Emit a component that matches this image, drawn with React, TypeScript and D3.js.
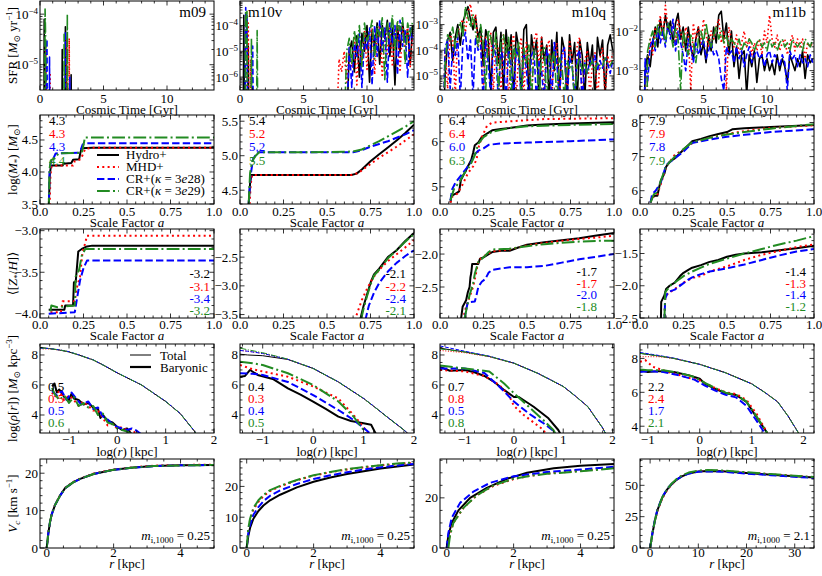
import React from 'react';
import * as d3 from 'd3';

type Pt = [number, number];

const FONT = '"Liberation Serif", "DejaVu Serif", serif';
const LEFTS = [40, 240, 440, 640];
const TOPS = [1, 115, 229, 344, 459];
const PW = 174;
const PH = 89;

const RUNS = ['Hydro+', 'MHD+', 'CR+(κ = 3e28)', 'CR+(κ = 3e29)'];
const SIMS = ['m09', 'm10v', 'm10q', 'm11b'];
const COLORS = ['#000000', '#ff0000', '#0000ff', '#228b22'];
const DASH_UNITS: (number[] | null)[] = [null, [1, 1.65], [3.7, 1.6], [6.4, 1.6, 1, 1.6]];

// ---------------- Row 1: SFR (log10 M_sun/yr) ----------------
const SFR_GRID_DT = 0.2;
const SFR_M09: Pt[][] = [
  [[0.3, -8], [0.33, -4.1], [0.36, -8], [0.42, -4.7], [0.45, -8], [1.7, -8], [1.75, -4.7], [1.8, -8], [1.95, -8], [2.0, -4.25], [2.05, -4.6], [2.1, -8], [2.4, -8], [2.45, -5.2], [2.5, -8]],
  [[0.4, -8], [0.45, -4.6], [0.5, -8], [0.75, -8], [0.8, -5.16], [0.85, -8], [2.05, -8], [2.1, -4.5], [2.15, -8], [2.25, -8], [2.3, -4.48], [2.35, -8]],
  [[0.45, -8], [0.5, -4.8], [0.55, -4.5], [0.6, -8], [0.7, -8], [0.75, -4.85], [0.8, -8], [1.95, -8], [2.0, -4.35], [2.05, -8], [2.3, -8], [2.35, -5.25], [2.4, -8]],
  [[0.35, -8], [0.4, -3.9], [0.45, -4.55], [0.5, -8], [1.85, -8], [1.9, -4.4], [1.95, -8], [2.1, -8], [2.15, -4.0], [2.2, -8]],
];
const SFR_M10V: Pt[][] = [
  [[0.25, -8], [0.3, -3.6], [0.35, -8], [0.6, -8], [0.65, -4.8], [0.7, -8],
   [8.4, -8], [8.6, -5.0], [8.8, -4.6], [9.0, -5.8], [9.2, -4.4], [9.4, -6.0], [9.6, -4.3], [9.8, -5.0], [10.0, -4.0], [10.2, -6.2], [10.4, -4.2], [10.6, -4.8], [10.8, -3.9], [11.0, -5.5], [11.2, -4.0], [11.4, -4.5], [11.6, -3.8], [11.8, -5.2], [12.0, -4.1], [12.2, -6.3], [12.4, -4.0], [12.6, -5.0], [12.8, -3.9], [13.0, -4.6], [13.2, -4.2], [13.4, -5.5], [13.6, -4.0]],
  [[0.5, -8], [0.55, -3.75], [0.6, -5.5], [0.65, -3.9], [0.7, -8], [0.8, -8], [0.85, -5.3], [0.9, -8],
   [7.6, -8], [7.8, -5.3], [8.0, -5.8], [8.2, -5.0], [8.4, -6.2], [8.6, -4.9], [8.8, -5.6], [9.0, -4.5], [9.2, -6.3], [9.4, -4.6], [9.6, -5.5], [9.8, -4.2], [10.0, -5.7], [10.2, -4.4], [10.4, -4.1], [10.6, -5.9], [10.8, -4.3], [11.0, -4.0], [11.2, -6.0], [11.4, -4.2], [11.6, -5.1], [11.8, -4.0], [12.0, -5.6], [12.2, -4.3], [12.4, -3.9], [12.6, -5.8], [12.8, -4.1], [13.0, -4.8], [13.2, -4.0], [13.4, -5.6], [13.6, -4.3]],
  [[0.4, -8], [0.45, -3.3], [0.5, -4.5], [0.55, -3.6], [0.6, -8], [0.95, -8], [1.0, -4.8], [1.05, -8],
   [8.4, -8], [8.6, -4.8], [8.8, -6.4], [9.0, -4.7], [9.2, -5.2], [9.4, -4.3], [9.6, -6.4], [9.8, -4.5], [10.0, -4.9], [10.2, -4.1], [10.4, -6.3], [10.6, -4.0], [10.8, -5.2], [11.0, -3.8], [11.2, -5.0], [11.4, -4.1], [11.6, -6.2], [11.8, -3.9], [12.0, -4.7], [12.2, -4.0], [12.4, -5.9], [12.6, -3.8], [12.8, -4.8], [13.0, -4.2], [13.2, -6.0], [13.4, -4.1], [13.6, -4.6]],
  [[0.4, -8], [0.45, -3.5], [0.5, -4.0], [0.55, -3.45], [0.6, -8], [0.85, -8], [0.9, -4.5], [0.95, -8], [1.3, -8], [1.35, -4.2], [1.4, -8],
   [8.2, -8], [8.4, -5.0], [8.6, -4.5], [8.8, -5.5], [9.0, -4.2], [9.2, -4.8], [9.4, -4.0], [9.6, -5.6], [9.8, -3.9], [10.0, -4.6], [10.2, -4.3], [10.4, -3.8], [10.6, -5.3], [10.8, -4.0], [11.0, -4.4], [11.2, -3.7], [11.4, -6.1], [11.6, -3.9], [11.8, -4.5], [12.0, -3.6], [12.2, -5.0], [12.4, -3.8], [12.6, -4.2], [12.8, -3.7], [13.0, -5.5], [13.2, -3.9], [13.4, -4.4], [13.6, -3.8]],
];
const SFR_M10Q: number[][] = [
  [-8, -8, -5.0, -3.6, -3.3, -4.4, -3.5, -3.0, -3.8, -2.9, -2.6, -2.3, -2.8, -3.2, -2.7, -3.5, -3.1, -4.6, -3.2, -3.6, -5.6, -3.3, -3.1, -4.5, -3.3, -5.8, -3.2, -4.3, -3.4, -6.0, -3.3, -3.9, -5.8, -3.2, -3.0, -5.9, -3.4, -4.2, -3.6, -6, -3.5, -4.4, -3.8, -6, -3.6, -4.8, -3.3, -5.9, -3.5, -4.0, -6, -3.4, -4.5, -3.7, -6, -3.6, -4.2, -5.9, -3.7, -4.6, -3.8, -6, -3.5, -4.2, -3.6, -5.8, -3.8, -3.4, -4.0],
  [-8, -8, -4.0, -5.5, -3.4, -3.6, -5.8, -3.3, -3.0, -2.8, -3.3, -2.5, -2.2, -3.0, -2.6, -3.8, -3.4, -5.8, -3.5, -4.2, -3.3, -5.7, -3.6, -4.0, -5.9, -3.4, -3.9, -5.9, -3.8, -3.4, -6, -4.0, -3.5, -5.8, -3.7, -4.6, -6, -3.6, -3.3, -4.6, -3.5, -5.9, -3.9, -3.6, -5.8, -4.2, -3.7, -6, -4.3, -3.9, -5.9, -3.6, -4.3, -6, -3.8, -3.5, -6, -4.4, -4.0, -5.8, -4.5, -4.1, -6, -4.3, -3.9, -5.8, -4.2, -4.6, -4.1],
  [-8, -8, -3.9, -3.6, -5.5, -3.9, -4.2, -3.5, -5.9, -3.7, -3.3, -4.4, -3.6, -5.8, -3.5, -4.0, -3.8, -6, -3.6, -4.5, -5.9, -3.8, -4.2, -6, -3.9, -4.4, -6, -4.0, -4.6, -5.9, -3.9, -4.3, -6, -4.1, -4.7, -6, -4.2, -4.0, -6, -4.4, -4.8, -6, -4.0, -4.3, -5.9, -3.7, -4.5, -6, -4.1, -3.9, -6, -4.3, -4.6, -5.9, -4.2, -4.0, -6, -4.5, -4.9, -4.4, -4.6, -4.2, -4.8, -4.4, -4.7, -4.3, -4.5, -4.9, -4.4],
  [-8, -8, -4.5, -3.4, -3.6, -3.1, -3.9, -3.2, -2.9, -3.5, -2.3, -2.7, -3.1, -2.6, -3.3, -3.9, -3.0, -3.7, -5.6, -3.2, -3.5, -4.2, -3.3, -5.8, -3.6, -3.4, -4.1, -3.5, -5.9, -3.8, -4.3, -3.7, -6, -3.9, -4.5, -3.8, -6, -4.0, -4.3, -5.9, -4.1, -3.9, -6, -4.2, -4.5, -4.0, -6, -4.3, -4.6, -5.9, -4.4, -4.7, -4.5, -6, -4.6, -4.3, -4.8, -4.5, -4.9, -4.6, -4.4, -4.8, -4.5, -4.7, -4.6, -4.3, -4.5, -4.6, -4.4],
];
const SFR_M11B: number[][] = [
  [-8, -8, -3.0, -2.6, -2.9, -2.3, -1.9, -2.4, -1.7, -2.1, -1.6, -2.0, -1.75, -2.3, -1.8, -1.55, -2.2, -1.9, -2.5, -1.9, -2.4, -2.7, -2.2, -1.9, -2.6, -2.3, -2.8, -2.1, -2.5, -1.9, -2.3, -1.6, -1.5, -2.2, -1.8, -2.6, -2.0, -2.9, -2.4, -3.2, -2.6, -2.5, -3.6, -2.6, -2.9, -2.5, -3.3, -2.7, -2.6, -3.0, -2.7, -3.0, -2.8, -3.1, -2.6, -3.0, -2.7, -2.9, -3.3, -2.6, -2.8, -3.0, -2.7, -2.9, -2.5, -3.2, -2.6, -2.8, -2.7],
  [-8, -8, -8, -2.8, -2.2, -2.6, -1.9, -2.0, -1.6, -2.2, -1.35, -1.9, -2.1, -1.8, -2.3, -1.7, -2.0, -2.4, -1.9, -2.1, -3.5, -1.8, -2.2, -1.9, -2.3, -1.7, -2.1, -2.4, -2.0, -2.2, -1.9, -1.7, -2.3, -2.0, -3.5, -1.9, -2.2, -2.4, -2.1, -2.6, -2.3, -2.0, -2.4, -2.2, -2.6, -2.3, -2.5, -2.2, -2.6, -2.0, -2.3, -1.6, -2.2, -2.4, -2.1, -2.5, -2.3, -2.2, -2.6, -2.3, -2.1, -2.5, -2.2, -2.4, -2.2, -2.7, -2.3, -2.4, -2.3],
  [-8, -8, -2.7, -3.3, -2.4, -2.2, -2.5, -1.9, -2.3, -2.0, -2.4, -1.8, -2.2, -1.7, -2.5, -2.0, -2.3, -2.6, -3.0, -2.2, -2.4, -2.8, -2.3, -2.6, -2.4, -2.2, -2.7, -2.5, -2.3, -2.6, -2.5, -2.7, -3.2, -3.5, -2.4, -2.6, -2.5, -2.8, -2.4, -2.7, -2.5, -2.9, -2.6, -2.4, -2.8, -2.6, -2.5, -2.7, -2.6, -2.9, -2.6, -2.5, -2.8, -2.6, -2.7, -2.9, -2.6, -2.8, -3.5, -2.5, -2.7, -2.6, -2.9, -2.6, -2.8, -2.7, -2.9, -2.6, -2.8],
  [-8, -8, -8, -2.5, -2.2, -2.0, -2.4, -1.8, -2.1, -1.9, -2.3, -1.8, -2.0, -2.4, -1.9, -2.2, -3.5, -2.0, -2.3, -2.6, -2.1, -2.3, -2.8, -2.2, -2.0, -2.3, -1.8, -2.2, -2.4, -2.1, -1.9, -2.2, -2.0, -2.3, -2.1, -2.4, -2.2, -2.3, -2.4, -2.2, -2.5, -2.3, -2.4, -2.2, -2.3, -2.5, -2.3, -2.2, -2.4, -2.3, -2.5, -2.2, -2.4, -2.3, -2.5, -2.3, -2.2, -2.4, -2.3, -2.5, -2.2, -2.3, -2.4, -2.3, -2.5, -2.2, -2.3, -2.4, -2.2],
];

// ---------------- Row 2: log stellar mass vs scale factor ----------------
const MSTAR_M09: Pt[][] = [
  [[0.05, 3.4], [0.056, 3.95], [0.062, 4.08], [0.07, 4.1], [0.13, 4.1], [0.135, 4.13], [0.18, 4.14], [0.19, 4.19], [0.225, 4.2], [0.232, 4.3], [0.24, 4.37], [0.3, 4.38], [1.0, 4.38]],
  [[0.055, 3.4], [0.06, 3.95], [0.066, 4.08], [0.08, 4.1], [0.19, 4.1], [0.2, 4.17], [0.235, 4.2], [0.25, 4.3], [0.26, 4.36], [0.3, 4.38], [1.0, 4.38]],
  [[0.05, 3.4], [0.055, 4.0], [0.062, 4.15], [0.075, 4.2], [0.09, 4.29], [0.22, 4.3], [0.235, 4.35], [0.245, 4.43], [0.27, 4.45], [1.0, 4.45]],
  [[0.05, 3.4], [0.055, 4.05], [0.062, 4.18], [0.09, 4.22], [0.105, 4.29], [0.24, 4.3], [0.25, 4.42], [0.258, 4.54], [1.0, 4.54]],
];
const MSTAR_M10V: Pt[][] = [
  [[0.05, 4.3], [0.058, 4.6], [0.065, 4.72], [0.4, 4.72], [0.64, 4.72], [0.67, 4.74], [0.7, 4.8], [0.75, 4.92], [0.8, 5.02], [0.85, 5.12], [0.9, 5.22], [0.95, 5.33], [1.0, 5.45]],
  [[0.055, 4.3], [0.062, 4.6], [0.07, 4.72], [0.64, 4.72], [0.68, 4.75], [0.75, 4.88], [0.8, 4.97], [0.85, 5.05], [0.9, 5.13], [0.95, 5.22], [1.0, 5.31]],
  [[0.05, 4.3], [0.06, 4.7], [0.075, 4.95], [0.1, 5.05], [0.4, 5.05], [0.65, 5.05], [0.7, 5.08], [0.75, 5.13], [0.8, 5.17], [0.85, 5.21], [0.9, 5.26], [0.95, 5.31], [1.0, 5.37]],
  [[0.05, 4.3], [0.058, 4.75], [0.07, 4.92], [0.09, 5.0], [0.11, 5.05], [0.4, 5.05], [0.65, 5.06], [0.7, 5.09], [0.75, 5.15], [0.8, 5.21], [0.85, 5.28], [0.9, 5.35], [0.95, 5.42], [1.0, 5.5]],
];
const MSTAR_M10Q: Pt[][] = [
  [[0.06, 4.65], [0.065, 4.8], [0.09, 4.85], [0.11, 4.9], [0.12, 5.15], [0.14, 5.3], [0.16, 5.45], [0.18, 5.6], [0.19, 5.75], [0.2, 5.92], [0.22, 5.98], [0.24, 6.1], [0.27, 6.18], [0.3, 6.25], [0.35, 6.28], [0.4, 6.3], [0.5, 6.36], [0.6, 6.38], [0.75, 6.4], [1.0, 6.43]],
  [[0.06, 4.65], [0.07, 4.78], [0.1, 4.85], [0.13, 5.05], [0.16, 5.3], [0.19, 5.45], [0.21, 5.6], [0.22, 5.85], [0.24, 6.1], [0.27, 6.35], [0.3, 6.42], [0.4, 6.45], [0.6, 6.5], [1.0, 6.52]],
  [[0.06, 4.7], [0.07, 4.95], [0.09, 5.1], [0.12, 5.25], [0.15, 5.4], [0.18, 5.55], [0.2, 5.72], [0.22, 5.8], [0.25, 5.85], [0.28, 5.93], [0.35, 5.96], [0.5, 5.98], [0.75, 6.01], [1.0, 6.05]],
  [[0.06, 4.7], [0.08, 4.95], [0.11, 5.1], [0.14, 5.3], [0.17, 5.45], [0.2, 5.7], [0.22, 5.95], [0.25, 6.1], [0.3, 6.22], [0.4, 6.3], [0.5, 6.34], [0.75, 6.37], [1.0, 6.39]],
];
const MSTAR_M11B: Pt[][] = [
  [[0.06, 5.65], [0.07, 5.8], [0.085, 5.85], [0.1, 5.85], [0.11, 6.1], [0.12, 6.3], [0.14, 6.5], [0.15, 6.7], [0.17, 6.85], [0.2, 6.95], [0.25, 7.2], [0.28, 7.35], [0.3, 7.45], [0.35, 7.52], [0.4, 7.6], [0.45, 7.66], [0.5, 7.72], [0.53, 7.8], [0.6, 7.83], [0.75, 7.87], [1.0, 7.93]],
  [[0.06, 5.65], [0.08, 5.85], [0.1, 5.9], [0.12, 6.2], [0.15, 6.7], [0.2, 7.05], [0.25, 7.2], [0.3, 7.4], [0.4, 7.55], [0.5, 7.66], [0.6, 7.75], [0.75, 7.84], [1.0, 7.92]],
  [[0.06, 5.65], [0.07, 5.9], [0.09, 6.0], [0.12, 6.25], [0.15, 6.75], [0.2, 6.95], [0.25, 7.15], [0.3, 7.4], [0.4, 7.5], [0.5, 7.58], [0.6, 7.64], [0.75, 7.72], [1.0, 7.8]],
  [[0.06, 5.65], [0.08, 5.9], [0.1, 5.95], [0.12, 6.3], [0.15, 6.72], [0.2, 7.0], [0.25, 7.22], [0.3, 7.42], [0.4, 7.55], [0.5, 7.65], [0.6, 7.72], [0.75, 7.82], [1.0, 7.95]],
];

// ---------------- Row 3: stellar metallicity ----------------
const Z_M09: Pt[][] = [
  [[0.05, -3.95], [0.14, -3.95], [0.145, -3.9], [0.19, -3.9], [0.195, -3.62], [0.205, -3.62], [0.21, -3.5], [0.22, -3.25], [0.24, -3.22], [0.27, -3.19], [0.3, -3.18], [1.0, -3.18]],
  [[0.06, -3.98], [0.12, -3.98], [0.13, -3.85], [0.2, -3.85], [0.21, -3.7], [0.23, -3.55], [0.245, -3.25], [0.26, -3.15], [0.27, -3.06], [1.0, -3.06]],
  [[0.05, -4.0], [0.2, -3.98], [0.21, -3.85], [0.23, -3.6], [0.25, -3.45], [0.27, -3.36], [1.0, -3.36]],
  [[0.06, -3.97], [0.065, -3.9], [0.1, -3.92], [0.2, -3.9], [0.205, -3.55], [0.225, -3.47], [0.24, -3.3], [0.26, -3.22], [1.0, -3.22]],
];
const Z_M10V: Pt[][] = [
  [[0.69, -3.6], [0.71, -3.35], [0.73, -3.15], [0.75, -2.95], [0.77, -2.8], [0.8, -2.7], [0.85, -2.5], [0.9, -2.38], [0.95, -2.22], [1.0, -2.08]],
  [[0.66, -3.6], [0.68, -3.42], [0.7, -3.25], [0.73, -3.05], [0.76, -2.88], [0.8, -2.72], [0.85, -2.57], [0.9, -2.45], [0.95, -2.33], [1.0, -2.2]],
  [[0.72, -3.6], [0.74, -3.35], [0.77, -3.12], [0.8, -2.95], [0.85, -2.75], [0.9, -2.6], [0.95, -2.48], [1.0, -2.38]],
  [[0.695, -3.6], [0.71, -3.4], [0.73, -3.18], [0.75, -2.98], [0.77, -2.82], [0.8, -2.72], [0.85, -2.52], [0.9, -2.38], [0.95, -2.23], [1.0, -2.1]],
];
const Z_M10Q: Pt[][] = [
  [[0.12, -3.0], [0.13, -2.8], [0.15, -2.7], [0.16, -2.58], [0.17, -2.5], [0.175, -2.35], [0.18, -2.28], [0.185, -2.15], [0.22, -2.15], [0.23, -2.07], [0.25, -2.05], [0.28, -2.0], [0.3, -1.97], [0.35, -1.95], [0.4, -1.95], [0.45, -1.9], [0.5, -1.86], [0.6, -1.82], [0.7, -1.79], [0.8, -1.76], [0.9, -1.72], [1.0, -1.68]],
  [[0.13, -3.0], [0.15, -2.8], [0.17, -2.65], [0.19, -2.5], [0.2, -2.38], [0.21, -2.25], [0.22, -2.1], [0.24, -2.06], [0.27, -2.0], [0.3, -1.96], [0.4, -1.93], [0.5, -1.87], [0.6, -1.83], [0.7, -1.8], [0.8, -1.77], [0.9, -1.75], [1.0, -1.72]],
  [[0.14, -3.0], [0.15, -2.85], [0.16, -2.73], [0.2, -2.72], [0.21, -2.62], [0.22, -2.5], [0.24, -2.42], [0.26, -2.38], [0.28, -2.28], [0.3, -2.24], [0.35, -2.22], [0.4, -2.2], [0.5, -2.2], [0.6, -2.18], [0.7, -2.13], [0.8, -2.08], [0.9, -2.04], [1.0, -2.0]],
  [[0.14, -3.0], [0.155, -2.8], [0.17, -2.62], [0.19, -2.45], [0.2, -2.3], [0.22, -2.12], [0.25, -2.05], [0.28, -1.97], [0.3, -1.93], [0.4, -1.92], [0.5, -1.88], [0.6, -1.85], [0.7, -1.83], [0.8, -1.81], [0.9, -1.8], [1.0, -1.8]],
];
const Z_M11B: Pt[][] = [
  [[0.12, -2.55], [0.122, -2.25], [0.14, -2.15], [0.15, -2.05], [0.17, -2.0], [0.2, -1.95], [0.23, -1.85], [0.25, -1.8], [0.28, -1.75], [0.3, -1.72], [0.35, -1.68], [0.4, -1.63], [0.45, -1.6], [0.5, -1.55], [0.55, -1.52], [0.6, -1.5], [0.7, -1.48], [0.8, -1.45], [0.9, -1.42], [1.0, -1.38]],
  [[0.14, -2.55], [0.145, -2.2], [0.16, -2.12], [0.2, -2.05], [0.25, -1.95], [0.3, -1.88], [0.35, -1.85], [0.4, -1.78], [0.5, -1.7], [0.6, -1.6], [0.7, -1.52], [0.8, -1.46], [0.9, -1.4], [1.0, -1.36]],
  [[0.14, -2.55], [0.145, -2.2], [0.16, -2.1], [0.2, -2.06], [0.25, -1.96], [0.28, -1.9], [0.3, -1.87], [0.35, -1.82], [0.4, -1.78], [0.5, -1.73], [0.6, -1.67], [0.7, -1.6], [0.8, -1.53], [0.9, -1.47], [1.0, -1.43]],
  [[0.14, -2.55], [0.145, -2.1], [0.16, -2.05], [0.18, -1.98], [0.2, -1.95], [0.25, -1.85], [0.3, -1.78], [0.35, -1.72], [0.4, -1.66], [0.5, -1.58], [0.6, -1.5], [0.7, -1.43], [0.8, -1.36], [0.9, -1.3], [1.0, -1.23]],
];

// ---------------- Row 4: density profiles ----------------
const RHO_TOT_M09: Pt[][] = [
  [[-1.6, 8.5], [-1.4, 8.42], [-1.2, 8.33], [-1.0, 8.2], [-0.8, 8.0], [-0.5, 7.67], [-0.25, 7.25], [0, 6.8], [0.25, 6.4], [0.5, 6.0], [0.75, 5.45], [1.0, 4.9], [1.15, 4.5], [1.3, 4.1], [1.45, 3.5], [1.6, 2.9], [1.65, 2.7]],
  [[-1.6, 8.4], [-1.4, 8.4], [-1.2, 8.33], [-1.0, 8.21], [-0.8, 8.0], [-0.5, 7.67], [-0.25, 7.25], [0, 6.8], [0.25, 6.4], [0.5, 6.0], [0.75, 5.45], [1.0, 4.9], [1.15, 4.5], [1.3, 4.1], [1.45, 3.5], [1.6, 2.9], [1.65, 2.7]],
  [[-1.6, 8.45], [-1.4, 8.43], [-1.2, 8.34], [-1.0, 8.22], [-0.8, 8.01], [-0.5, 7.68], [-0.25, 7.26], [0, 6.81], [0.25, 6.41], [0.5, 6.01], [0.75, 5.46], [1.0, 4.91], [1.15, 4.51], [1.3, 4.11], [1.45, 3.51], [1.6, 2.91], [1.65, 2.7]],
  [[-1.6, 8.48], [-1.4, 8.42], [-1.2, 8.34], [-1.0, 8.21], [-0.8, 8.0], [-0.5, 7.67], [-0.25, 7.25], [0, 6.8], [0.25, 6.4], [0.5, 6.0], [0.75, 5.45], [1.0, 4.9], [1.15, 4.5], [1.3, 4.1], [1.45, 3.5], [1.6, 2.9], [1.65, 2.7]],
];
const RHO_BAR_M09: Pt[][] = [
  [[-1.35, 5.9], [-1.3, 6.1], [-1.25, 5.5], [-1.2, 5.7], [-1.1, 5.2], [-1.0, 5.0], [-0.95, 5.4], [-0.9, 5.1], [-0.8, 5.0], [-0.7, 4.7], [-0.6, 4.8], [-0.5, 4.5], [-0.4, 4.4], [-0.35, 3.8], [-0.3, 4.0], [-0.2, 3.6], [-0.1, 3.5], [0, 3.2], [0.1, 3.0], [0.2, 3.1], [0.3, 2.7]],
  [[-1.35, 5.5], [-1.3, 5.2], [-1.2, 5.6], [-1.1, 5.0], [-1.0, 5.3], [-0.9, 5.0], [-0.8, 4.6], [-0.7, 4.9], [-0.6, 4.6], [-0.5, 4.3], [-0.4, 4.3], [-0.3, 3.8], [-0.2, 3.3], [-0.1, 3.4], [0, 3.1], [0.1, 3.2], [0.2, 3.0], [0.3, 3.05], [0.4, 2.7]],
  [[-1.35, 5.6], [-1.25, 5.3], [-1.15, 5.6], [-1.05, 5.0], [-0.95, 5.5], [-0.85, 5.1], [-0.75, 4.7], [-0.6, 4.9], [-0.5, 4.4], [-0.4, 4.5], [-0.3, 3.9], [-0.2, 3.7], [-0.1, 3.4], [0, 3.2], [0.1, 3.1], [0.2, 3.0], [0.3, 3.1], [0.4, 2.95], [0.5, 2.7]],
  [[-1.35, 5.8], [-1.3, 5.4], [-1.2, 5.0], [-1.1, 5.3], [-1.0, 4.8], [-0.9, 5.2], [-0.8, 4.6], [-0.7, 4.8], [-0.6, 4.5], [-0.5, 4.6], [-0.4, 4.0], [-0.3, 4.1], [-0.2, 3.5], [-0.1, 3.4], [0, 3.1], [0.1, 3.0], [0.2, 2.9], [0.3, 2.7]],
];
const RHO_TOT_M10V: Pt[][] = [
  [[-1.45, 8.05], [-1.3, 8.0], [-1.0, 7.95], [-0.5, 7.7], [0, 7.1], [0.5, 6.2], [1.0, 5.1], [1.25, 4.45], [1.5, 3.78], [1.8, 3.0], [1.9, 2.7]],
  [[-1.45, 8.3], [-1.3, 8.25], [-1.0, 8.1], [-0.5, 7.7], [0, 7.1], [0.5, 6.2], [1.0, 5.1], [1.25, 4.45], [1.5, 3.78], [1.8, 3.0], [1.9, 2.7]],
  [[-1.45, 8.3], [-1.3, 8.25], [-1.0, 8.1], [-0.5, 7.71], [0, 7.11], [0.5, 6.21], [1.0, 5.11], [1.25, 4.46], [1.5, 3.79], [1.8, 3.01], [1.9, 2.7]],
  [[-1.45, 8.45], [-1.3, 8.35], [-1.0, 8.15], [-0.5, 7.72], [0, 7.1], [0.5, 6.2], [1.0, 5.1], [1.25, 4.45], [1.5, 3.78], [1.8, 3.0], [1.9, 2.7]],
];
const RHO_BAR_M10V: Pt[][] = [
  [[-1.45, 6.55], [-1.35, 6.6], [-1.25, 7.0], [-1.1, 6.67], [-0.8, 6.4], [-0.5, 5.78], [-0.25, 5.35], [0, 4.89], [0.25, 4.4], [0.5, 3.89], [0.75, 3.6], [1.0, 3.45], [1.15, 3.35], [1.25, 2.7]],
  [[-1.45, 7.33], [-1.2, 7.05], [-1.0, 6.9], [-0.5, 6.55], [0, 5.9], [0.5, 5.1], [0.8, 4.0], [1.0, 3.2], [1.1, 2.7]],
  [[-1.45, 6.78], [-1.2, 6.75], [-1.0, 6.67], [-0.5, 6.2], [0, 5.33], [0.5, 4.33], [0.8, 3.67], [1.05, 3.0], [1.15, 2.7]],
  [[-1.45, 7.55], [-1.2, 7.45], [-1.0, 7.33], [-0.5, 6.78], [0, 6.0], [0.5, 4.9], [0.8, 3.9], [1.0, 3.0], [1.05, 2.7]],
];
const RHO_TOT_M10Q: Pt[][] = [
  [[-1.5, 8.45], [-1.0, 8.2], [-0.5, 7.9], [0, 7.45], [0.5, 6.75], [1.0, 5.9], [1.25, 5.25], [1.5, 4.55], [1.8, 3.13], [1.87, 2.7]],
  [[-1.5, 8.3], [-1.0, 8.15], [-0.5, 7.88], [0, 7.45], [0.5, 6.75], [1.0, 5.9], [1.25, 5.25], [1.5, 4.55], [1.8, 3.13], [1.87, 2.7]],
  [[-1.5, 8.6], [-1.0, 8.25], [-0.5, 7.92], [0, 7.46], [0.5, 6.76], [1.0, 5.91], [1.25, 5.26], [1.5, 4.56], [1.8, 3.14], [1.87, 2.7]],
  [[-1.5, 8.4], [-1.0, 8.2], [-0.5, 7.9], [0, 7.45], [0.5, 6.75], [1.0, 5.9], [1.25, 5.25], [1.5, 4.55], [1.8, 3.13], [1.87, 2.7]],
];
const RHO_BAR_M10Q: Pt[][] = [
  [[-1.5, 7.2], [-1.3, 6.95], [-1.0, 7.0], [-0.8, 6.85], [-0.6, 6.6], [-0.4, 6.2], [-0.2, 5.67], [0, 5.2], [0.1, 5.2], [0.4, 4.55], [0.7, 3.78], [0.9, 3.0], [0.95, 2.7]],
  [[-1.5, 7.0], [-1.0, 6.9], [-0.6, 6.6], [-0.3, 6.0], [-0.1, 5.3], [0, 4.6], [0.2, 4.0], [0.4, 3.5], [0.6, 3.0], [0.65, 2.7]],
  [[-1.5, 7.1], [-1.0, 7.1], [-0.6, 6.8], [-0.3, 5.9], [0, 4.9], [0.3, 4.1], [0.6, 3.45], [0.8, 2.95], [0.85, 2.7]],
  [[-1.5, 7.3], [-1.0, 7.1], [-0.5, 6.9], [-0.2, 6.1], [0, 5.45], [0.3, 4.55], [0.6, 3.65], [0.8, 3.0], [0.85, 2.7]],
];
const RHO_TOT_M11B: Pt[][] = [
  [[-1.15, 8.3], [-0.8, 8.15], [-0.5, 8.0], [0, 7.65], [0.5, 7.15], [1.0, 6.5], [1.25, 6.0], [1.5, 5.44], [1.7, 4.6], [1.87, 3.76], [1.92, 3.5]],
  [[-1.15, 8.1], [-0.8, 8.1], [-0.5, 8.0], [0, 7.66], [0.5, 7.16], [1.0, 6.51], [1.25, 6.01], [1.5, 5.45], [1.7, 4.61], [1.87, 3.77], [1.92, 3.5]],
  [[-1.15, 8.35], [-0.8, 8.18], [-0.5, 8.02], [0, 7.65], [0.5, 7.15], [1.0, 6.5], [1.25, 6.0], [1.5, 5.44], [1.7, 4.6], [1.87, 3.76], [1.92, 3.5]],
  [[-1.15, 8.3], [-0.8, 8.15], [-0.5, 8.0], [0, 7.65], [0.5, 7.15], [1.0, 6.5], [1.25, 6.0], [1.5, 5.44], [1.7, 4.6], [1.87, 3.76], [1.92, 3.5]],
];
const RHO_BAR_M11B: Pt[][] = [
  [[-1.15, 7.3], [-1.0, 7.2], [-0.8, 7.25], [-0.5, 7.2], [-0.2, 7.0], [0, 6.8], [0.1, 6.5], [0.3, 6.2], [0.5, 5.94], [0.7, 5.84], [0.9, 5.44], [1.1, 4.5], [1.3, 3.6]],
  [[-1.15, 7.8], [-1.05, 7.9], [-0.9, 7.5], [-0.6, 7.2], [-0.2, 6.85], [0, 6.7], [0.3, 6.25], [0.5, 6.0], [0.7, 5.9], [0.9, 5.55], [1.1, 4.7], [1.3, 3.6]],
  [[-1.15, 7.2], [-1.0, 7.25], [-0.7, 7.2], [-0.4, 7.0], [-0.1, 6.75], [0.1, 6.4], [0.3, 6.1], [0.5, 5.85], [0.7, 5.7], [0.9, 5.2], [1.1, 4.3], [1.25, 3.6]],
  [[-1.15, 7.35], [-1.0, 7.3], [-0.7, 7.3], [-0.4, 7.15], [-0.1, 6.9], [0.1, 6.55], [0.3, 6.25], [0.5, 5.98], [0.7, 5.85], [0.9, 5.45], [1.1, 4.55], [1.3, 3.6]],
];
const RHO_LABELS = ['Total', 'Baryonic'];

// ---------------- Row 5: circular velocity ----------------
const VC_M09: Pt[][] = [
  [[0, 0], [0.05, 4], [0.1, 7], [0.15, 9], [0.25, 11.5], [0.4, 14], [0.55, 16], [0.8, 17.6], [1.0, 18.5], [1.4, 19.8], [2.0, 20.9], [2.6, 21.5], [3.2, 21.9], [4.0, 22.1], [5.0, 22.2]],
  [[0, 0], [0.05, 4.1], [0.1, 7.1], [0.15, 9.1], [0.25, 11.6], [0.4, 14.1], [0.55, 16.1], [0.8, 17.7], [1.0, 18.6], [1.4, 19.9], [2.0, 21.0], [2.6, 21.6], [3.2, 22.0], [4.0, 22.2], [5.0, 22.3]],
  [[0, 0], [0.05, 4], [0.1, 7], [0.15, 9], [0.25, 11.5], [0.4, 14], [0.55, 16], [0.8, 17.6], [1.0, 18.5], [1.4, 19.8], [2.0, 20.9], [2.6, 21.5], [3.2, 21.9], [4.0, 22.1], [5.0, 22.2]],
  [[0, 0], [0.05, 4], [0.1, 7], [0.15, 9], [0.25, 11.5], [0.4, 14], [0.55, 16], [0.8, 17.6], [1.0, 18.5], [1.4, 19.8], [2.0, 20.9], [2.6, 21.5], [3.2, 21.9], [4.0, 22.1], [5.0, 22.2]],
];
const VC_M10V: Pt[][] = [
  [[0, 0], [0.05, 4], [0.1, 6.5], [0.2, 9.5], [0.35, 12], [0.5, 13.8], [0.7, 15.5], [1.0, 17.3], [1.5, 19.7], [2.0, 21.5], [2.5, 22.9], [3.0, 24.0], [3.5, 24.9], [4.0, 25.8], [4.5, 26.5], [5.0, 27.1]],
  [[0, 0], [0.05, 6], [0.1, 9], [0.2, 12.5], [0.35, 15], [0.5, 16.8], [0.7, 18.5], [1.0, 20], [1.5, 22], [2.0, 23.5], [2.5, 24.6], [3.0, 25.5], [3.5, 26.2], [4.0, 26.8], [4.5, 27.3], [5.0, 27.7]],
  [[0, 0], [0.05, 5], [0.1, 7.5], [0.2, 10.8], [0.35, 13.3], [0.5, 15.2], [0.7, 17.0], [1.0, 18.7], [1.5, 20.8], [2.0, 22.4], [2.5, 23.6], [3.0, 24.6], [3.5, 25.5], [4.0, 26.2], [4.5, 26.8], [5.0, 27.3]],
  [[0, 0], [0.05, 6.5], [0.1, 9.5], [0.2, 13], [0.35, 15.5], [0.5, 17.2], [0.7, 18.8], [1.0, 20.2], [1.5, 22.1], [2.0, 23.6], [2.5, 24.7], [3.0, 25.6], [3.5, 26.3], [4.0, 26.9], [4.5, 27.4], [5.0, 27.8]],
];
const VC_M10Q: Pt[][] = [
  [[0, 0], [0.05, 5], [0.15, 10], [0.35, 15], [0.7, 20], [1.2, 24], [1.8, 27.6], [2.4, 30], [3.2, 31.8], [4.0, 32.8], [5.0, 33.5]],
  [[0.03, 0], [0.1, 6], [0.2, 10], [0.5, 16], [0.9, 21], [1.4, 24.8], [2.0, 27.5], [2.5, 28.8], [3.0, 29.7], [4.0, 30.8], [5.0, 32]],
  [[0, 0], [0.05, 6], [0.15, 12], [0.4, 18], [0.8, 22.5], [1.3, 26], [2.0, 28.6], [3.0, 30.3], [4.0, 31.3], [5.0, 32.4]],
  [[0.05, 0], [0.1, 5], [0.2, 10], [0.5, 16], [0.9, 21], [1.4, 25], [2.0, 27.6], [2.5, 28.8], [3.0, 29.6], [4.0, 30.6], [5.0, 31.8]],
];
const VC_M11B: Pt[][] = [
  [[0, 0], [0.5, 12], [1.0, 22], [1.5, 30], [2.5, 40], [3.5, 46.5], [4.5, 51], [5.5, 54.5], [6.5, 57], [8, 59.5], [10, 61], [12, 61.5], [15, 61.2], [20, 59.8], [25, 58.5], [30, 57.2], [34, 56.2]],
  [[0, 0], [0.5, 12], [1.0, 21.5], [1.5, 29.5], [2.5, 39.5], [3.5, 46], [4.5, 50.8], [5.5, 54.5], [6.5, 57.2], [8, 59.8], [10, 61.3], [12, 61.8], [15, 61.5], [20, 60.1], [25, 58.8], [30, 57.4], [34, 56.4]],
  [[0, 0], [0.5, 12.5], [1.0, 22.5], [1.5, 30.5], [2.5, 40.5], [3.5, 47], [4.5, 51.3], [5.5, 54.6], [6.5, 57], [8, 59.4], [10, 60.8], [12, 61.2], [15, 60.8], [20, 59.4], [25, 58.1], [30, 56.8], [34, 55.9]],
  [[0, 0], [0.5, 12], [1.0, 22], [1.5, 30], [2.5, 40.2], [3.5, 46.8], [4.5, 51.5], [5.5, 55], [6.5, 57.6], [8, 60.2], [10, 61.8], [12, 62.2], [15, 61.8], [20, 60.4], [25, 59], [30, 57.6], [34, 56.6]],
];

// annotations (final values per run)
const MSTAR_LABELS = [['4.3', '4.3', '4.3', '4.4'], ['5.4', '5.2', '5.2', '5.5'], ['6.4', '6.4', '6.0', '6.3'], ['7.9', '7.9', '7.8', '7.9']];
const Z_LABELS = [['-3.2', '-3.1', '-3.4', '-3.2'], ['-2.1', '-2.2', '-2.4', '-2.1'], ['-1.7', '-1.7', '-2.0', '-1.8'], ['-1.4', '-1.3', '-1.4', '-1.2']];
const RHO_VALS = [['0.5', '0.5', '0.5', '0.6'], ['0.4', '0.3', '0.4', '0.5'], ['0.7', '0.8', '0.5', '0.8'], ['2.2', '2.4', '1.7', '2.1']];
const MASS_RES = ['0.25', '0.25', '0.25', '2.1'];

// ---------------- axes configuration ----------------
const SFR_YDOM: Pt[] = [[-5.5, -3.74], [-6.5, -3.05], [-5.55, -2.08], [-3.49, -1.24]];
const MSTAR_YDOM: Pt[] = [[3.5, 4.89], [4.3, 5.59], [4.62, 6.59], [5.61, 8.22]];
const MSTAR_YMAJ = [[3.5, 4.0, 4.5], [4.5, 5.0, 5.5], [5, 6], [6, 7, 8]];
const MSTAR_YMIN = [0.1, 0.1, 0.2, 0.2];
const Z_YDOM: Pt[] = [[-4.05, -2.98], [-3.56, -2.01], [-2.97, -1.62], [-2.5, -1.12]];
const Z_YMAJ = [[-4.0, -3.5, -3.0], [-3.5, -3.0, -2.5], [-2.5, -2.0], [-2.5, -2.0, -1.5]];
const RHO_XDOM: Pt[] = [[-1.6, 2], [-1.45, 2], [-1.5, 2.03], [-1.15, 2.2]];
const RHO_YDOM: Pt[] = [[2.8, 8.73], [2.8, 8.73], [2.8, 8.73], [3.6, 8.85]];
const VC_XDOM: Pt[] = [[-0.2, 5], [-0.2, 5], [-0.2, 5], [-2.1, 34]];
const VC_XMAJ = [[0, 2, 4], [0, 2, 4], [0, 2, 4], [0, 10, 20, 30]];
const VC_XMIN = [0.5, 0.5, 0.5, 2];
const VC_YDOM: Pt[] = [[0, 23.8], [0, 28.9], [0, 35.5], [0, 71]];
const VC_YMAJ = [[0, 10, 20], [0, 10, 20], [0, 20], [0, 25, 50]];
const VC_YMIN = [2, 2, 5, 5];

const TICK_LBL_OFF = [12.5, 12, 11, 11, 9];
const AXIS_LBL_OFF = [24, 23, 21.5, 22.5, 19.5];

function stepTicks(dom: Pt, step: number): number[] {
  const lo = Math.min(dom[0], dom[1]);
  const hi = Math.max(dom[0], dom[1]);
  const out: number[] = [];
  const s = Math.ceil(lo / step - 1e-9);
  const e = Math.floor(hi / step + 1e-9);
  for (let i = s; i <= e; i++) out.push(+(i * step).toFixed(6));
  return out;
}

function dashFor(i: number, lw: number): string | undefined {
  const u = DASH_UNITS[i];
  return u ? u.map((v) => (v * lw).toFixed(2)).join(' ') : undefined;
}

const minusFmt = (v: number, digits: number) => {
  const s = v.toFixed(digits);
  return s.replace('-', '\u2212');
};

type Scales = { xs: d3.ScaleLinear<number, number>; ys: (v: number) => number };

interface PanelProps {
  row: number;
  col: number;
  xDom: Pt;
  yDom: Pt;
  yLog?: boolean;
  xMajor: number[];
  xMinorStep: number;
  yMajor: number[];
  yMinorStep: number;
  xFmt: (v: number) => string;
  yFmt: (v: number) => React.ReactNode;
  xLabel: React.ReactNode;
  render: (s: Scales) => React.ReactNode;
}

function Panel(p: PanelProps) {
  const x0 = LEFTS[p.col];
  const y0 = TOPS[p.row];
  const xs = d3.scaleLinear().domain(p.xDom).range([x0, x0 + PW]);
  let ys: (v: number) => number;
  let yMajorPos: number[];
  let yMinorPos: number[];
  if (p.yLog) {
    const ls = d3.scaleLog().domain([10 ** p.yDom[0], 10 ** p.yDom[1]]).range([y0 + PH, y0]);
    ys = (v: number) => ls(10 ** v);
    yMajorPos = p.yMajor.map((v) => ys(v));
    const minors: number[] = [];
    for (let n = Math.floor(p.yDom[0]); n <= Math.ceil(p.yDom[1]); n++) {
      for (let k = 2; k <= 9; k++) {
        const lv = n + Math.log10(k);
        if (lv >= p.yDom[0] && lv <= p.yDom[1]) minors.push(ys(lv));
      }
    }
    yMinorPos = minors;
  } else {
    const ls = d3.scaleLinear().domain(p.yDom).range([y0 + PH, y0]);
    ys = (v: number) => ls(v);
    yMajorPos = p.yMajor.map((v) => ys(v));
    yMinorPos = stepTicks(p.yDom, p.yMinorStep)
      .filter((v) => !p.yMajor.some((m) => Math.abs(m - v) < 1e-6))
      .map((v) => ys(v));
  }
  const xMinor = stepTicks(p.xDom, p.xMinorStep).filter((v) => !p.xMajor.some((m) => Math.abs(m - v) < 1e-6));
  const clipId = `clip-${p.row}-${p.col}`;
  const yb = y0 + PH;
  const xr = x0 + PW;
  const MJ = 4.5;
  const MN = 2.5;
  return (
    <g>
      <defs>
        <clipPath id={clipId}>
          <rect x={x0} y={y0} width={PW} height={PH} />
        </clipPath>
      </defs>
      <g clipPath={`url(#${clipId})`}>{p.render({ xs, ys })}</g>
      <g stroke="#000" strokeWidth={0.8}>
        {p.xMajor.map((v, i) => (
          <g key={`xM${i}`}>
            <line x1={xs(v)} x2={xs(v)} y1={yb} y2={yb - MJ} />
            <line x1={xs(v)} x2={xs(v)} y1={y0} y2={y0 + MJ} />
          </g>
        ))}
        {xMinor.map((v, i) => (
          <g key={`xm${i}`}>
            <line x1={xs(v)} x2={xs(v)} y1={yb} y2={yb - MN} />
            <line x1={xs(v)} x2={xs(v)} y1={y0} y2={y0 + MN} />
          </g>
        ))}
        {yMajorPos.map((y, i) => (
          <g key={`yM${i}`}>
            <line x1={x0} x2={x0 + MJ} y1={y} y2={y} />
            <line x1={xr} x2={xr - MJ} y1={y} y2={y} />
          </g>
        ))}
        {yMinorPos.map((y, i) => (
          <g key={`ym${i}`}>
            <line x1={x0} x2={x0 + MN} y1={y} y2={y} />
            <line x1={xr} x2={xr - MN} y1={y} y2={y} />
          </g>
        ))}
      </g>
      <rect x={x0} y={y0} width={PW} height={PH} fill="none" stroke="#000" strokeWidth={1} />
      <g fontFamily={FONT} fontSize={13} fill="#000">
        {p.xMajor.map((v, i) => (
          <text key={`xl${i}`} x={xs(v)} y={yb + TICK_LBL_OFF[p.row]} textAnchor="middle">
            {p.xFmt(v)}
          </text>
        ))}
        {p.yMajor.map((v, i) => (
          <text key={`yl${i}`} x={x0 - 2} y={ys(v) + 4.5} textAnchor="end">
            {p.yFmt(v)}
          </text>
        ))}
        <text x={x0 + PW / 2} y={yb + AXIS_LBL_OFF[p.row]} textAnchor="middle">
          {p.xLabel}
        </text>
      </g>
    </g>
  );
}

function RunLines({ series, s, lw, op }: { series: Pt[][]; s: Scales; lw: number; op?: number }) {
  const gen = d3
    .line<Pt>()
    .x((d) => s.xs(d[0]))
    .y((d) => s.ys(d[1]));
  return (
    <g>
      {series.map((pts, i) => (
        <path
          key={i}
          d={gen(pts) || ''}
          fill="none"
          stroke={COLORS[i]}
          strokeWidth={lw}
          strokeDasharray={dashFor(i, lw)}
          strokeLinejoin="round"
          opacity={op ?? 1}
        />
      ))}
    </g>
  );
}

const SUP = (t: string) => (
  <tspan dy={-5} fontSize={9}>
    {t}
  </tspan>
);

const logFmt = (v: number) => (
  <>
    10<tspan dy={-5} fontSize={9}>{'\u2212' + Math.abs(v)}</tspan>
  </>
);

const scaleFactorLabel = (
  <>
    Scale Factor <tspan fontStyle="italic">a</tspan>
  </>
);

export default function App() {
  const sfrAll: Pt[][][] = [
    SFR_M09,
    SFR_M10V,
    SFR_M10Q.map((arr) => arr.map((v, i) => [i * SFR_GRID_DT, v] as Pt)),
    SFR_M11B.map((arr) => arr.map((v, i) => [i * SFR_GRID_DT, v] as Pt)),
  ];
  const mstarAll = [MSTAR_M09, MSTAR_M10V, MSTAR_M10Q, MSTAR_M11B];
  const zAll = [Z_M09, Z_M10V, Z_M10Q, Z_M11B];
  const rhoTotAll = [RHO_TOT_M09, RHO_TOT_M10V, RHO_TOT_M10Q, RHO_TOT_M11B];
  const rhoBarAll = [RHO_BAR_M09, RHO_BAR_M10V, RHO_BAR_M10Q, RHO_BAR_M11B];
  const vcAll = [VC_M09, VC_M10V, VC_M10Q, VC_M11B];

  const zRight = [170, 166, 157, 166];
  const zBase = [[49, 62, 74, 86], [49, 62, 74, 86], [47, 59, 70, 82], [47, 59, 70, 82]];

  const yLabelX = 17;
  const rowMid = (r: number) => TOPS[r] + PH / 2;

  return (
    <svg
      width={822}
      height={576}
      viewBox="0 0 822 576"
      style={{ position: 'absolute', left: 0, top: 0, background: '#fff' }}
      fontFamily={FONT}
    >
      <rect x={0} y={0} width={822} height={576} fill="#fff" />
      {SIMS.map((sim, c) => {
        const yMajSfr = d3.range(Math.ceil(SFR_YDOM[c][0]), Math.floor(SFR_YDOM[c][1]) + 1);
        return (
          <g key={sim}>
            {/* Row 1: SFR */}
            <Panel
              row={0}
              col={c}
              xDom={[0, 13.7]}
              yDom={SFR_YDOM[c]}
              yLog
              xMajor={[0, 5, 10]}
              xMinorStep={1}
              yMajor={yMajSfr}
              yMinorStep={1}
              xFmt={(v) => String(v)}
              yFmt={logFmt}
              xLabel="Cosmic Time [Gyr]"
              render={(s) => (
                <>
                  <RunLines series={sfrAll[c]} s={s} lw={1.6} />
                  <text
                    x={c === 1 ? LEFTS[c] + 8 : LEFTS[c] + PW - 8}
                    y={TOPS[0] + 16}
                    textAnchor={c === 1 ? 'start' : 'end'}
                    fontSize={15}
                    fontFamily={FONT}
                  >
                    {sim}
                  </text>
                </>
              )}
            />
            {/* Row 2: stellar mass */}
            <Panel
              row={1}
              col={c}
              xDom={[0, 1]}
              yDom={MSTAR_YDOM[c]}
              xMajor={[0, 0.25, 0.5, 0.75, 1]}
              xMinorStep={0.05}
              yMajor={MSTAR_YMAJ[c]}
              yMinorStep={MSTAR_YMIN[c]}
              xFmt={(v) => (v === 0.25 || v === 0.75 ? v.toFixed(2) : v.toFixed(1))}
              yFmt={(v) => (c < 2 ? v.toFixed(1) : v.toFixed(0))}
              xLabel={scaleFactorLabel}
              render={(s) => (
                <>
                  <RunLines series={mstarAll[c]} s={s} lw={2} />
                  {MSTAR_LABELS[c].map((t, i) => (
                    <text
                      key={i}
                      x={LEFTS[c] + 9}
                      y={TOPS[1] + [10, 23, 36, 49.5][i]}
                      fill={COLORS[i]}
                      fontSize={13}
                      fontFamily={FONT}
                    >
                      {t}
                    </text>
                  ))}
                  {c === 0 &&
                    RUNS.map((r, i) => {
                      const ly = TOPS[1] + 44 + i * 12;
                      return (
                        <g key={r}>
                          <line
                            x1={97}
                            x2={119}
                            y1={ly - 4}
                            y2={ly - 4}
                            stroke={COLORS[i]}
                            strokeWidth={2}
                            strokeDasharray={dashFor(i, 2)}
                          />
                          <text x={126} y={ly} fontSize={13} fontFamily={FONT}>
                            {i < 2 ? (
                              r
                            ) : (
                              <>
                                CR+(<tspan fontStyle="italic">κ</tspan> = 3<tspan fontStyle="italic">e</tspan>
                                {i === 2 ? '28' : '29'})
                              </>
                            )}
                          </text>
                        </g>
                      );
                    })}
                </>
              )}
            />
            {/* Row 3: metallicity */}
            <Panel
              row={2}
              col={c}
              xDom={[0, 1]}
              yDom={Z_YDOM[c]}
              xMajor={[0, 0.25, 0.5, 0.75, 1]}
              xMinorStep={0.05}
              yMajor={Z_YMAJ[c]}
              yMinorStep={0.1}
              xFmt={(v) => (v === 0.25 || v === 0.75 ? v.toFixed(2) : v.toFixed(1))}
              yFmt={(v) => minusFmt(v, 1)}
              xLabel={scaleFactorLabel}
              render={(s) => (
                <>
                  <RunLines series={zAll[c]} s={s} lw={2} />
                  {Z_LABELS[c].map((t, i) => (
                    <text
                      key={i}
                      x={LEFTS[c] + zRight[c]}
                      y={TOPS[2] + zBase[c][i]}
                      fill={COLORS[i]}
                      fontSize={13}
                      textAnchor="end"
                      fontFamily={FONT}
                    >
                      {t}
                    </text>
                  ))}
                </>
              )}
            />
            {/* Row 4: density */}
            <Panel
              row={3}
              col={c}
              xDom={RHO_XDOM[c]}
              yDom={RHO_YDOM[c]}
              xMajor={d3.range(Math.ceil(RHO_XDOM[c][0]), Math.floor(RHO_XDOM[c][1]) + 1)}
              xMinorStep={0.2}
              yMajor={[4, 6, 8]}
              yMinorStep={0.5}
              xFmt={(v) => minusFmt(v, 0)}
              yFmt={(v) => String(v)}
              xLabel={
                <>
                  log(<tspan fontStyle="italic">r</tspan>) [kpc]
                </>
              }
              render={(s) => (
                <>
                  <RunLines series={rhoTotAll[c]} s={s} lw={1} />
                  <RunLines series={rhoBarAll[c]} s={s} lw={2} />
                  {RHO_VALS[c].map((t, i) => (
                    <text
                      key={i}
                      x={LEFTS[c] + 8}
                      y={TOPS[3] + [47, 59, 71, 83][i]}
                      fill={COLORS[i]}
                      fontSize={13}
                      fontFamily={FONT}
                    >
                      {t}
                    </text>
                  ))}
                  {c === 0 &&
                    RHO_LABELS.map((t, i) => (
                      <g key={t}>
                        <line
                          x1={130}
                          x2={151}
                          y1={TOPS[3] + 11 + i * 12}
                          y2={TOPS[3] + 11 + i * 12}
                          stroke="#000"
                          strokeWidth={i === 0 ? 1 : 2.2}
                        />
                        <text x={160} y={TOPS[3] + 15.5 + i * 12} fontSize={13} fontFamily={FONT}>
                          {t}
                        </text>
                      </g>
                    ))}
                </>
              )}
            />
            {/* Row 5: circular velocity */}
            <Panel
              row={4}
              col={c}
              xDom={VC_XDOM[c]}
              yDom={VC_YDOM[c]}
              xMajor={VC_XMAJ[c]}
              xMinorStep={VC_XMIN[c]}
              yMajor={VC_YMAJ[c]}
              yMinorStep={VC_YMIN[c]}
              xFmt={(v) => String(v)}
              yFmt={(v) => String(v)}
              xLabel={
                <>
                  <tspan fontStyle="italic">r</tspan> [kpc]
                </>
              }
              render={(s) => (
                <>
                  <RunLines series={vcAll[c]} s={s} lw={2} />
                  <text
                    x={LEFTS[c] + PW - 4}
                    y={TOPS[4] + 81}
                    textAnchor="end"
                    fontSize={13}
                    fontFamily={FONT}
                  >
                    <tspan fontStyle="italic">m</tspan>
                    <tspan dy={3} fontSize={9}>
                      i,1000
                    </tspan>
                    <tspan dy={-3}> = {MASS_RES[c]}</tspan>
                  </text>
                </>
              )}
            />
          </g>
        );
      })}
      {/* y-axis labels */}
      <g fontSize={13} fontFamily={FONT}>
        <text transform={`translate(${yLabelX},${rowMid(0)}) rotate(-90)`} textAnchor="middle">
          SFR [<tspan fontStyle="italic">M</tspan>
          <tspan dy={3} fontSize={9}>⊙</tspan>
          <tspan dy={-3}> yr</tspan>
          {SUP('\u22121')}
          <tspan dy={5}>]</tspan>
        </text>
        <text transform={`translate(${yLabelX},${rowMid(1)}) rotate(-90)`} textAnchor="middle">
          log(<tspan fontStyle="italic">M</tspan>
          <tspan dy={3} fontSize={9}>*</tspan>
          <tspan dy={-3}>) [</tspan>
          <tspan fontStyle="italic">M</tspan>
          <tspan dy={3} fontSize={9}>⊙</tspan>
          <tspan dy={-3}>]</tspan>
        </text>
        <text transform={`translate(${yLabelX},${rowMid(2)}) rotate(-90)`} textAnchor="middle">
          ⟨[<tspan fontStyle="italic">Z</tspan>
          <tspan dy={3} fontSize={9}>*</tspan>
          <tspan dy={-3}>/</tspan>
          <tspan fontStyle="italic">H</tspan>]⟩
        </text>
        <text transform={`translate(${yLabelX},${rowMid(3)}) rotate(-90)`} textAnchor="middle">
          log(<tspan fontStyle="italic">ρ</tspan>[<tspan fontStyle="italic">r</tspan>]) [<tspan fontStyle="italic">M</tspan>
          <tspan dy={3} fontSize={9}>⊙</tspan>
          <tspan dy={-3}> kpc</tspan>
          {SUP('\u22123')}
          <tspan dy={5}>]</tspan>
        </text>
        <text transform={`translate(${yLabelX},${rowMid(4)}) rotate(-90)`} textAnchor="middle">
          <tspan fontStyle="italic">V</tspan>
          <tspan dy={3} fontSize={9} fontStyle="italic">c</tspan>
          <tspan dy={-3}> [km s</tspan>
          {SUP('\u22121')}
          <tspan dy={5}>]</tspan>
        </text>
      </g>
    </svg>
  );
}
